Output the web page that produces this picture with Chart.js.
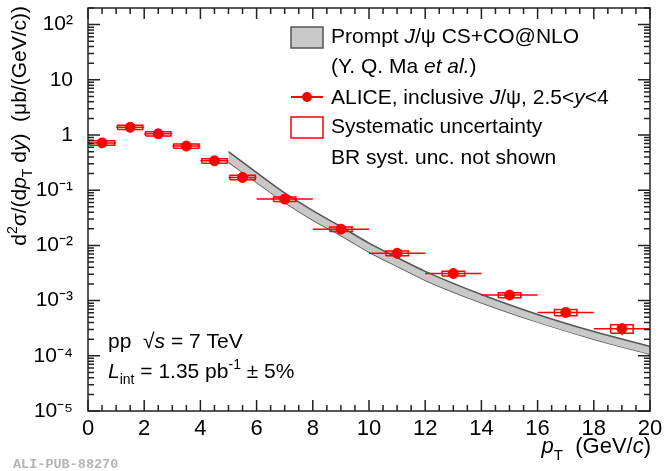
<!DOCTYPE html>
<html>
<head>
<meta charset="utf-8">
<script src="https://cdn.jsdelivr.net/npm/chart.js@4.4.1/dist/chart.umd.min.js"></script>
<style>
  body { margin: 0; background: #fff; }
  #wrap { width: 664px; height: 471px; }
</style>
</head>
<body>
<div id="wrap"><canvas id="xsec" width="664" height="471"></canvas></div>
<script>
// ALICE inclusive J/psi, 2.5<y<4, pp 7 TeV
const ptCenter = [0.5, 1.5, 2.5, 3.5, 4.5, 5.5, 7, 9, 11, 13, 15, 17, 19];
const ptLow = [0, 1, 2, 3, 4, 5, 6, 8, 10, 12, 14, 16, 18];
const ptHigh = [1, 2, 3, 4, 5, 6, 8, 10, 12, 14, 16, 18, 20];
const xsec = [0.72, 1.38, 1.05, 0.63, 0.34, 0.17, 0.069, 0.0197, 0.0072, 0.0031, 0.00126, 0.00061, 0.00031];
const statErr = [0.03, 0.05, 0.04, 0.025, 0.014, 0.007, 0.003, 0.001, 0.0004, 0.0002, 0.00012, 0.00008, 0.000075];
const systErr = [0.065, 0.12, 0.095, 0.057, 0.031, 0.016, 0.0065, 0.0019, 0.0007, 0.0003, 0.00013, 0.00008, 0.000055];
const systHalfWidth = [0.45, 0.45, 0.45, 0.45, 0.45, 0.45, 0.4, 0.4, 0.4, 0.4, 0.4, 0.4, 0.4];

// Prompt J/psi CS+CO@NLO (Y. Q. Ma et al.) band
const theoryPt = [5, 6, 7, 8, 9, 10, 11, 12, 14, 16, 18, 20];
const theoryHigh = [0.50, 0.209, 0.0891, 0.0427, 0.0219, 0.011, 0.00603, 0.00339, 0.00129, 0.000562, 0.000275, 0.000148];
const theoryLow = [0.324, 0.138, 0.0603, 0.0288, 0.0151, 0.00759, 0.00417, 0.00234, 0.000912, 0.000407, 0.0002, 0.000107];

const yTickValues = [1e-5, 1e-4, 1e-3, 1e-2, 1e-1, 1, 10, 100];
const yTickLabels = ["10⁻⁵", "10⁻⁴", "10⁻³", "10⁻²", "10⁻¹", "1", "10", "10²"];
const xTickValues = [0, 2, 4, 6, 8, 10, 12, 14, 16, 18, 20];

const FONT = '"Liberation Sans", Arial, Helvetica, sans-serif';
const RED = "#ff0000";

// error bar segments, separated by null points so the line breaks
const hBars = [], vBars = [], boxes = [];
ptCenter.forEach((x, i) => {
    const y = xsec[i];
    hBars.push({ x: ptLow[i], y }, { x: ptHigh[i], y }, { x, y: null });
    vBars.push({ x, y: y - statErr[i] }, { x, y: y + statErr[i] }, { x, y: null });
    const l = x - systHalfWidth[i], r = x + systHalfWidth[i];
    const lo = y - systErr[i], hi = y + systErr[i];
    boxes.push({ x: l, y: lo }, { x: r, y: lo }, { x: r, y: hi }, { x: l, y: hi }, { x: l, y: lo }, { x, y: null });
});

// text with italic / sub / superscript pieces
function rich(ctx, x, y, parts, size, align) {
    const pieces = parts.map(([t, f = ""]) => {
        const small = f.includes("b") || f.includes("p");
        const s = small ? Math.round(size * 0.68) : size;
        const font = (f.includes("i") ? "italic " : "") + s + "px " + FONT;
        ctx.font = font;
        const dy = f.includes("b") ? size * 0.3 : f.includes("p") ? -size * 0.42 : 0;
        return { t, font, dy, w: ctx.measureText(t).width };
    });
    const total = pieces.reduce((a, p) => a + p.w, 0);
    let cx = align === "right" ? x - total : x;
    ctx.textAlign = "left";
    ctx.textBaseline = "alphabetic";
    pieces.forEach((p) => {
        ctx.font = p.font;
        ctx.fillText(p.t, cx, y + p.dy);
        cx += p.w;
    });
}

const decorations = {
    id: "decorations",
    afterDatasetsDraw(chart) {
        const { ctx, chartArea: a, scales } = chart;
        ctx.save();
        ctx.strokeStyle = "#222";
        ctx.lineWidth = 1.5;
        ctx.strokeRect(a.left, a.top, a.right - a.left, a.bottom - a.top);

        // inward ticks on all four sides
        ctx.beginPath();
        scales.x.ticks.forEach((t) => {
            const px = scales.x.getPixelForValue(t.value);
            const len = t.value % 2 === 0 ? 11 : 6;
            ctx.moveTo(px, a.bottom); ctx.lineTo(px, a.bottom - len);
            ctx.moveTo(px, a.top); ctx.lineTo(px, a.top + len);
        });
        scales.y.ticks.forEach((t) => {
            const py = scales.y.getPixelForValue(t.value);
            const major = yTickValues.some((v) => Math.abs(v / t.value - 1) < 1e-6);
            const len = major ? 12 : 6;
            ctx.moveTo(a.left, py); ctx.lineTo(a.left + len, py);
            ctx.moveTo(a.right, py); ctx.lineTo(a.right - len, py);
        });
        ctx.stroke();

        ctx.fillStyle = "#000";
        // axis titles
        rich(ctx, a.right + 1, 453, [["p", "i"], ["T", "b"], ["  (GeV/"], ["c", "i"], [")"]], 22, "right");
        ctx.save();
        ctx.translate(26, 6);
        ctx.rotate(-Math.PI / 2);
        rich(ctx, 0, 0, [["d"], ["2", "p"], ["σ/(d"], ["p", "i"], ["T", "b"], [" d"], ["y", "i"], [")  (μb/(GeV/c))"]], 21, "right");
        ctx.restore();

        // legend
        const lx = 291, lw = 32;
        ctx.fillStyle = "#c8c8c8";
        ctx.strokeStyle = "#555";
        ctx.lineWidth = 1.5;
        ctx.fillRect(lx, 27, lw, 21);
        ctx.strokeRect(lx, 27, lw, 21);
        ctx.strokeStyle = RED;
        ctx.lineWidth = 2;
        ctx.beginPath(); ctx.moveTo(lx, 97); ctx.lineTo(lx + lw, 97); ctx.stroke();
        ctx.fillStyle = RED;
        ctx.beginPath(); ctx.arc(lx + lw / 2, 97, 5, 0, Math.PI * 2); ctx.fill();
        ctx.lineWidth = 1.5;
        ctx.strokeRect(lx, 117, lw, 21);

        ctx.fillStyle = "#000";
        const tx = 331;
        rich(ctx, tx, 43, [["Prompt "], ["J", "i"], ["/ψ CS+CO@NLO"]], 21);
        rich(ctx, tx, 73, [["(Y. Q. Ma "], ["et al.", "i"], [")"]], 21);
        rich(ctx, tx, 104, [["ALICE, inclusive "], ["J", "i"], ["/ψ, 2.5<"], ["y", "i"], ["<4"]], 21);
        rich(ctx, tx, 133, [["Systematic uncertainty"]], 21);
        rich(ctx, tx, 164, [["BR syst. unc. not shown"]], 21);

        // collision system
        rich(ctx, 108, 348, [["pp  √"], ["s", "i"], [" = 7 TeV"]], 21);
        rich(ctx, 108, 378, [["L", "i"], ["int", "b"], [" = 1.35 pb"], ["-1", "p"], [" ± 5%"]], 21);

        // watermark
        ctx.fillStyle = "#b4b4b4";
        ctx.font = "bold 13.5px \"Liberation Mono\", monospace";
        ctx.textBaseline = "middle";
        ctx.fillText("ALI-PUB-88270", 13, 465);
        ctx.restore();
    }
};

new Chart(document.getElementById("xsec"), {
    type: "scatter",
    data: {
        datasets: [
            {
                label: "ALICE, inclusive J/psi",
                data: ptCenter.map((x, i) => ({ x, y: xsec[i] })),
                backgroundColor: RED,
                borderColor: RED,
                pointRadius: 5,
                order: 0,
            },
            {
                label: "stat",
                data: hBars.concat(vBars),
                showLine: true,
                spanGaps: false,
                borderColor: RED,
                borderWidth: 1.5,
                pointRadius: 0,
                order: 1,
            },
            {
                label: "syst",
                data: boxes,
                showLine: true,
                spanGaps: false,
                borderColor: RED,
                borderWidth: 1.5,
                pointRadius: 0,
                order: 2,
            },
            {
                label: "CS+CO NLO upper",
                data: theoryPt.map((x, i) => ({ x, y: theoryHigh[i] })),
                showLine: true,
                fill: "+1",
                backgroundColor: "#c8c8c8",
                borderColor: "#555",
                borderWidth: 1.5,
                pointRadius: 0,
                cubicInterpolationMode: "monotone",
                order: 3,
            },
            {
                label: "CS+CO NLO lower",
                data: theoryPt.map((x, i) => ({ x, y: theoryLow[i] })),
                showLine: true,
                fill: false,
                borderColor: "#555",
                borderWidth: 1.5,
                pointRadius: 0,
                cubicInterpolationMode: "monotone",
                order: 4,
            },
        ],
    },
    options: {
        responsive: false,
        animation: false,
        events: [],
        layout: { padding: { top: 8, right: 14, left: 0, bottom: 0 } },
        plugins: { legend: { display: false }, tooltip: { enabled: false } },
        scales: {
            x: {
                type: "linear",
                min: 0,
                max: 20,
                grid: { display: false },
                border: { display: false },
                afterBuildTicks: (s) => {
                    const t = [];
                    for (let v = 0; v <= 20; v += 0.5) t.push({ value: v });
                    s.ticks = t;
                },
                afterFit: (s) => {
                    s.height = 60;
                    s.paddingLeft = 0;
                    s.paddingRight = 0;
                },
                ticks: {
                    autoSkip: false,
                    maxRotation: 0,
                    padding: -3,
                    color: "#000",
                    font: { family: FONT, size: 22 },
                    callback: (v) => (xTickValues.includes(v) ? String(v) : ""),
                },
            },
            y: {
                type: "logarithmic",
                min: 1e-5,
                max: 200,
                grid: { display: false },
                border: { display: false },
                afterBuildTicks: (s) => {
                    const t = [];
                    for (let e = -5; e <= 2; e++) {
                        for (let m = 1; m <= 9; m++) {
                            const v = m * Math.pow(10, e);
                            if (v <= 200) t.push({ value: v });
                        }
                    }
                    s.ticks = t;
                },
                afterFit: (s) => {
                    s.width = 88;
                    s.paddingTop = 0;
                    s.paddingBottom = 0;
                },
                ticks: {
                    autoSkip: false,
                    padding: 7,
                    color: "#000",
                    font: { family: FONT, size: 21 },
                    callback: (v) => {
                        const i = yTickValues.findIndex((t) => Math.abs(t / v - 1) < 1e-6);
                        return i >= 0 ? yTickLabels[i] : "";
                    },
                },
            },
        },
    },
    plugins: [decorations],
});
</script>
</body>
</html>
